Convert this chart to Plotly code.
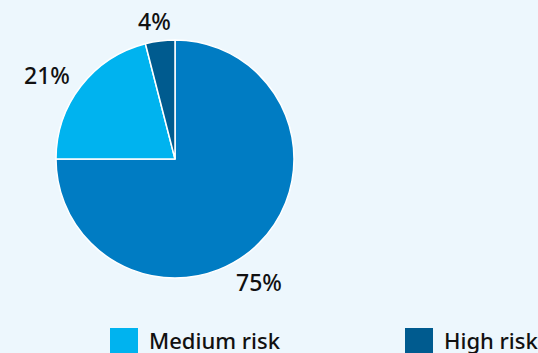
import plotly.graph_objects as go

# risk categories and their shares (%)
categories = ["Low risk", "Medium risk", "High risk"]
shares = [75, 21, 4]
colors = ["#007cc3", "#00b3ef", "#005b8f"]

W, H = 538, 353
BG = "#edf7fd"

fig = go.Figure()

fig.add_trace(go.Pie(
    labels=categories,
    values=shares,
    sort=False,
    direction="clockwise",
    rotation=0,
    marker=dict(colors=colors, line=dict(color="white", width=1.5)),
    textinfo="none",
    hoverinfo="label+percent",
    showlegend=False,
    domain=dict(x=[56 / W, 294 / W], y=[(H - 278) / H, (H - 40) / H]),
))

# percentage labels placed around the pie
label_pos = [(259, 282), (47, 75), (154, 21)]
for val, (px, py) in zip(shares, label_pos):
    fig.add_annotation(
        x=px / W, y=1 - py / H, xref="paper", yref="paper",
        text=f"{val}%", showarrow=False,
        font=dict(size=23, color="#111111", family="Noto Sans", weight=500),
        xanchor="center", yanchor="middle",
    )

# hand-made legend (only the medium and high items are visible in the frame)
legend_x = [110, 405]
for cat, col, lx in zip(categories[1:], colors[1:], legend_x):
    fig.add_shape(type="rect", xref="paper", yref="paper",
                  x0=lx / W, x1=(lx + 28) / W, y0=1 - 356 / H, y1=1 - 328 / H,
                  fillcolor=col, line_width=0)
    fig.add_annotation(
        x=(lx + 37) / W, y=1 - 340 / H, xref="paper", yref="paper",
        text=cat, showarrow=False,
        font=dict(size=22, color="#111111", family="Noto Sans", weight=500),
        xanchor="left", yanchor="middle",
    )

fig.update_layout(
    width=W, height=H,
    margin=dict(l=0, r=0, t=0, b=0),
    paper_bgcolor=BG, plot_bgcolor=BG,
)

fig.write_html(
    "out.html",
    config={"displayModeBar": False},
    post_script="document.body.style.margin='0';document.body.style.background='%s';" % BG,
)
